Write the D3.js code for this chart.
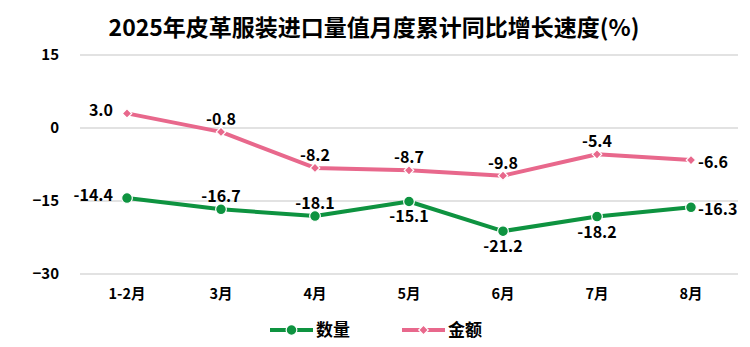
<!DOCTYPE html>
<html>
<head>
<meta charset="utf-8">
<script src="https://cdn.jsdelivr.net/npm/d3@7/dist/d3.min.js"></script>
<style>
  html, body { margin: 0; padding: 0; background: #fff; }
  svg { display: block; font-family: "Noto Sans CJK SC", "Noto Sans", sans-serif; }
</style>
</head>
<body>
<svg id="chart" width="750" height="347"></svg>
<script>
// Monthly cumulative year-on-year growth (%) of leather garment imports, 2025
const months = ["1-2月", "3月", "4月", "5月", "6月", "7月", "8月"];
const quantity = [-14.4, -16.7, -18.1, -15.1, -21.2, -18.2, -16.3];
const amount = [3.0, -0.8, -8.2, -8.7, -9.8, -5.4, -6.6];
const yTicks = [15, 0, -15, -30];
const seriesNames = ["数量", "金额"];
// where each value label sits relative to its point
const quantityLabelSide = ["left", "above", "above", "below", "below", "below", "right"];
const amountLabelSide = ["left", "above", "above", "above", "above", "above", "right"];

const W = 750, H = 347;
const margin = { left: 80, right: 12, top: 55, bottom: 73 };
const GREEN = "#0e9340";
const PINK = "#e8688c";

const svg = d3.select("#chart");

const x = d3.scaleBand().domain(months).range([margin.left, W - margin.right]);
const y = d3.scaleLinear().domain([-30, 15]).range([H - margin.bottom, margin.top]);
const cx = d => x(d) + x.bandwidth() / 2;

// marker shapes: round dot, and a square turned 45° for the diamond
const markerPath = shape => shape === "circle"
  ? d3.symbol().type(d3.symbolCircle).size(90)()
  : d3.symbol().type(d3.symbolSquare).size(45)();
const markerRotate = shape => shape === "circle" ? "" : " rotate(45)";

// title
svg.append("text")
  .attr("x", 374).attr("y", 36)
  .attr("text-anchor", "middle")
  .attr("font-size", 23).attr("font-weight", "bold").attr("fill", "#000")
  .text("2025年皮革服装进口量值月度累计同比增长速度(%)");

// horizontal gridlines
svg.append("g").selectAll("line").data(yTicks).join("line")
  .attr("x1", margin.left).attr("x2", W - margin.right)
  .attr("y1", d => y(d)).attr("y2", d => y(d))
  .attr("stroke", "#d9d9d9").attr("stroke-width", 1.5);

// y axis labels
const yAxis = d3.axisLeft(y).tickValues(yTicks).tickSize(0).tickPadding(0).tickFormat(d3.format("d"));
svg.append("g").attr("transform", `translate(59,0)`).call(yAxis)
  .call(g => g.select(".domain").remove())
  .selectAll("text")
  .attr("font-size", 15).attr("font-weight", "bold").attr("fill", "#000")
  .attr("font-family", "'Noto Sans CJK SC', sans-serif");

// x axis labels
const xAxis = d3.axisBottom(x).tickSize(0).tickPadding(0);
svg.append("g").attr("transform", `translate(0,289)`).call(xAxis)
  .call(g => g.select(".domain").remove())
  .selectAll("text")
  .attr("font-size", 14.5).attr("font-weight", "bold").attr("fill", "#000")
  .attr("font-family", "'Noto Sans CJK SC', sans-serif");

const line = d3.line().x((d, i) => cx(months[i])).y(d => y(d));

function drawSeries(values, color, shape, sides) {
  const g = svg.append("g");
  g.append("path").datum(values)
    .attr("d", line)
    .attr("fill", "none").attr("stroke", color)
    .attr("stroke-width", 4).attr("stroke-linejoin", "round");
  g.selectAll("path.m").data(values).join("path")
    .attr("class", "m")
    .attr("transform", (d, i) => `translate(${cx(months[i])},${y(d)})${markerRotate(shape)}`)
    .attr("d", markerPath(shape))
    .attr("fill", color).attr("stroke", "#fff").attr("stroke-width", 1.2);
  g.selectAll("text").data(values).join("text")
    .attr("font-size", 16).attr("font-weight", "bold").attr("fill", "#000")
    .each(function (d, i) {
      const px = cx(months[i]), py = y(d);
      const t = d3.select(this).text(d.toFixed(1));
      const side = sides[i];
      if (side === "above") {
        t.attr("x", px).attr("y", py - 7).attr("text-anchor", "middle");
      } else if (side === "below") {
        t.attr("x", px).attr("y", py + 21).attr("text-anchor", "middle");
      } else if (side === "left") {
        t.attr("x", px - 14).attr("y", py + 3).attr("text-anchor", "end");
      } else {
        t.attr("x", px + 7).attr("y", py + 8).attr("text-anchor", "start");
      }
    });
}

drawSeries(amount, PINK, "diamond", amountLabelSide);
drawSeries(quantity, GREEN, "circle", quantityLabelSide);

// legend
const legend = svg.append("g").attr("transform", "translate(0,330)");
const legendItems = [
  { name: seriesNames[0], color: GREEN, shape: "circle", x0: 270 },
  { name: seriesNames[1], color: PINK, shape: "diamond", x0: 402 }
];
legendItems.forEach(it => {
  legend.append("line")
    .attr("x1", it.x0).attr("x2", it.x0 + 43).attr("y1", 0).attr("y2", 0)
    .attr("stroke", it.color).attr("stroke-width", 4);
  legend.append("path")
    .attr("transform", `translate(${it.x0 + 21.5},0)${markerRotate(it.shape)}`)
    .attr("d", markerPath(it.shape))
    .attr("fill", it.color).attr("stroke", "#fff").attr("stroke-width", 1.2);
  legend.append("text")
    .attr("x", it.x0 + 46).attr("y", 6)
    .attr("font-size", 17).attr("font-weight", "bold").attr("fill", "#000")
    .text(it.name);
});
</script>
</body>
</html>
